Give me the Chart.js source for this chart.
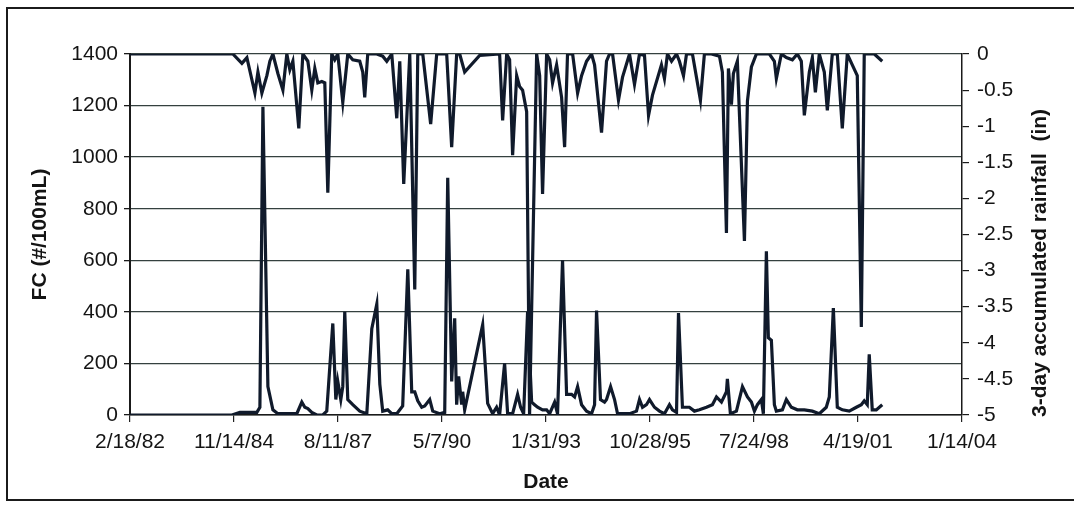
<!DOCTYPE html>
<html>
<head>
<meta charset="utf-8">
<script src="https://cdn.jsdelivr.net/npm/chart.js@4.4.1/dist/chart.umd.min.js"></script>
<style>
  html, body { margin: 0; padding: 0; background: #fff; }
  #wrap { position: relative; width: 1074px; height: 508px; overflow: hidden; }
  #frame { position: absolute; left: 6px; top: 7px; width: 1090px; height: 494px;
           border: 2px solid #1b1b1b; box-sizing: border-box; }
  #chart { position: absolute; left: 0; top: 0; }
</style>
</head>
<body>
<div id="wrap">
  <div id="frame"></div>
  <canvas id="chart" width="1074" height="508"></canvas>
</div>
<script>
// dates are Excel day serials (30000 = 2/18/82)
const fcDate = [
  30000, 30980, 31057, 31220, 31249, 31278, 31326, 31374, 31422, 31604,
  31652, 31681, 31710, 31748, 31796, 31854, 31892, 31950, 31979, 31998,
  32027, 32046, 32065, 32094, 32142, 32209, 32277, 32325, 32373, 32402,
  32430, 32478, 32517, 32565, 32622, 32671, 32709, 32738, 32767, 32805,
  32834, 32882, 32911, 32978, 33026, 33055, 33093, 33122, 33141, 33160,
  33189, 33199, 33218, 33391, 33439, 33487, 33525, 33554, 33602, 33631,
  33679, 33727, 33756, 33785, 33823, 33862, 33890, 33919, 33967, 34006,
  34035, 34083, 34111, 34159, 34198, 34246, 34275, 34304, 34342, 34390,
  34438, 34467, 34486, 34524, 34563, 34582, 34621, 34659, 34688, 34736,
  34803, 34870, 34899, 34928, 34966, 34995, 35043, 35091, 35139, 35187,
  35216, 35255, 35274, 35312, 35379, 35427, 35475, 35543, 35600, 35639,
  35687, 35735, 35744, 35773, 35831, 35889, 35937, 35975, 36004, 36033,
  36071, 36090, 36119, 36138, 36167, 36196, 36215, 36273, 36311, 36359,
  36417, 36484, 36561, 36628, 36695, 36724, 36763, 36801, 36849, 36916,
  36984, 37032, 37060, 37089, 37108, 37137, 37176, 37233
];
const fcValue = [
  0, 0, 10, 10, 30, 1195, 110, 20, 5, 5,
  50, 30, 25, 10, 0, 0, 15, 355, 60, 130,
  60, 110, 400, 60, 40, 15, 5, 335, 430, 120,
  15, 20, 5, 5, 35, 565, 90, 90, 55, 30,
  35, 60, 15, 5, 10, 920, 130, 375, 40, 150,
  40, 90, 20, 350, 45, 5, 30, 0, 200, 5,
  5, 80, 30, 5, 400, 50, 40, 30, 20, 20,
  5, 50, 5, 600, 80, 80, 70, 110, 40, 15,
  5, 40, 405, 60, 50, 60, 110, 60, 5, 5,
  5, 15, 60, 30, 40, 60, 30, 15, 5, 40,
  20, 10, 395, 30, 30, 15, 20, 30, 40, 70,
  50, 90, 140, 5, 15, 110, 70, 50, 15, 40,
  60, 5, 635, 300, 290, 40, 15, 20, 60, 30,
  20, 20, 15, 5, 30, 70, 415, 30, 20, 15,
  30, 40, 55, 40, 235, 20, 20, 40
];

const rainDate = [
  30000, 30989, 31076, 31124, 31201, 31230, 31268, 31316, 31345, 31374,
  31422, 31470, 31508, 31537, 31566, 31623, 31662, 31710, 31748, 31777,
  31806, 31844, 31873, 31902, 31940, 31969, 31998, 32046, 32094, 32142,
  32209, 32238, 32257, 32286, 32373, 32430, 32469, 32517, 32565, 32594,
  32632, 32690, 32738, 32767, 32815, 32891, 32949, 33045, 33093, 33141,
  33170, 33218, 33362, 33554, 33583, 33622, 33650, 33679, 33718, 33746,
  33775, 33814, 33842, 33910, 33939, 33967, 34006, 34035, 34063, 34102,
  34150, 34179, 34207, 34256, 34304, 34342, 34390, 34438, 34467, 34534,
  34582, 34611, 34640, 34697, 34736, 34803, 34851, 34899, 34947, 34986,
  35024, 35110, 35139, 35168, 35207, 35255, 35283, 35322, 35351, 35408,
  35485, 35523, 35591, 35668, 35696, 35735, 35754, 35783, 35802, 35840,
  35908, 35937, 35975, 36023, 36081, 36148, 36196, 36215, 36263, 36311,
  36369, 36417, 36455, 36484, 36532, 36561, 36590, 36628, 36676, 36705,
  36753, 36801, 36849, 36897, 36945, 36993, 37032, 37060, 37108, 37157,
  37233
];
const rainValue = [
  0, 0, -0.13, -0.05, -0.54, -0.25, -0.54, -0.3, -0.1, 0,
  -0.27, -0.5, 0, -0.22, -0.1, -1.03, 0, -0.1, -0.5, -0.2,
  -0.4, -0.38, -0.4, -1.92, 0, -0.08, 0, -0.67, 0, -0.08,
  -0.1, -0.25, -0.6, 0, 0, -0.03, -0.1, 0, -0.89, -0.1,
  -1.8, 0, -3.26, 0, 0, -0.97, 0, 0, -1.29, 0,
  0, -0.25, -0.02, 0, -0.92, 0, -0.08, -1.4, -0.3, -0.45,
  -0.5, -0.8, -5, 0, -0.3, -1.94, 0, -0.08, -0.4, -0.15,
  -0.6, -1.29, 0, 0, -0.54, -0.3, -0.1, 0, -0.15, -1.09,
  -0.1, 0, 0, -0.64, -0.32, 0, -0.42, 0, -0.02, -0.85,
  -0.57, -0.15, -0.34, 0, -0.1, 0, -0.1, -0.3, 0, 0,
  -0.64, 0, 0, -0.03, -0.25, -2.48, -0.2, -0.7, -0.27, -0.1,
  -2.59, -0.65, -0.18, 0, 0, 0, -0.1, -0.34, 0, -0.05,
  -0.08, 0, -0.1, -0.85, -0.25, -0.05, -0.53, 0, -0.25, -0.78,
  0, 0, -1.03, 0, -0.15, -0.3, -3.78, 0, 0, 0,
  -0.1
];

const xMin = 30000, xMax = 38000, xStep = 1000;
const fcTicks = { min: 0, max: 1400, step: 200 };
const rainTicks = { min: -5, max: 0, step: 0.5 };

const xTitle = 'Date';
const fcTitle = 'FC (#/100mL)';
const rainTitle = '3-day accumulated rainfall  (in)';

const FONT = '"Liberation Sans", Arial, sans-serif';
const LINE = '#101a2b';
const INK = '#141414';

function serialLabel(s) {
  const d = new Date(Date.UTC(1899, 11, 30) + s * 86400000);
  return (d.getUTCMonth() + 1) + '/' + d.getUTCDate() + '/' + String(d.getUTCFullYear()).slice(2);
}

function points(xs, ys) {
  return xs.map((x, i) => ({ x: x, y: ys[i] }));
}

// right title reads bottom-to-top, so draw it ourselves
const rightTitle = {
  id: 'rightTitle',
  afterDraw(chart) {
    const ctx = chart.ctx;
    ctx.save();
    ctx.translate(chart.chartArea.right + 78, 263);
    ctx.rotate(-Math.PI / 2);
    ctx.font = 'bold 21px ' + FONT;
    ctx.fillStyle = INK;
    ctx.textAlign = 'center';
    ctx.textBaseline = 'middle';
    ctx.fillText(rainTitle, 0, 0);
    ctx.restore();
  }
};

const ctx = document.getElementById('chart').getContext('2d');
const chart = new Chart(ctx, {
  type: 'line',
  data: {
    datasets: [{
      label: 'FC',
      data: points(fcDate, fcValue),
      yAxisID: 'y',
      borderColor: LINE,
      borderWidth: 3.2,
      pointRadius: 0,
      tension: 0
    }, {
      label: 'Rain',
      data: points(rainDate, rainValue),
      yAxisID: 'y2',
      borderColor: LINE,
      borderWidth: 3.2,
      pointRadius: 0,
      tension: 0
    }]
  },
  options: {
    responsive: false,
    animation: false,
    events: [],
    layout: { padding: { top: 54, left: 0, right: 0, bottom: 0 } },
    plugins: {
      legend: { display: false },
      tooltip: { enabled: false }
    },
    scales: {
      x: {
        type: 'linear',
        min: xMin,
        max: xMax,
        afterFit: (s) => { s.height = 93; },
        ticks: {
          stepSize: xStep,
          autoSkip: false,
          maxRotation: 0,
          padding: 8,
          color: INK,
          font: { family: FONT, size: 21 },
          callback: (v) => serialLabel(v)
        },
        grid: { drawOnChartArea: false, tickLength: 7, color: '#222', lineWidth: 1.2 },
        border: { color: '#1a1a1a', width: 1.5 },
        title: {
          display: true,
          text: xTitle,
          color: INK,
          font: { family: FONT, size: 21, weight: 'bold' },
          padding: { top: 0, bottom: 13 }
        }
      },
      y: {
        position: 'left',
        min: fcTicks.min,
        max: fcTicks.max,
        afterFit: (s) => { s.width = 130; },
        ticks: {
          stepSize: fcTicks.step,
          padding: 6,
          color: INK,
          font: { family: FONT, size: 21 },
          callback: (v) => String(v)
        },
        grid: { color: '#34403f', lineWidth: 1.3, tickLength: 6, tickColor: '#1a1a1a' },
        border: { color: '#1a1a1a', width: 2 },
        title: {
          display: true,
          text: fcTitle,
          color: INK,
          font: { family: FONT, size: 21, weight: 'bold' },
          padding: { top: 28, bottom: 0 }
        }
      },
      y2: {
        position: 'right',
        min: rainTicks.min,
        max: rainTicks.max,
        afterFit: (s) => { s.width = 112; },
        ticks: {
          stepSize: rainTicks.step,
          padding: 8,
          color: INK,
          font: { family: FONT, size: 21 },
          callback: (v) => String(v)
        },
        grid: { drawOnChartArea: false, tickLength: 7, color: '#1a1a1a', lineWidth: 1.2 },
        border: { color: '#1a1a1a', width: 1.5 }
      }
    }
  },
  plugins: [rightTitle]
});
</script>
</body>
</html>
